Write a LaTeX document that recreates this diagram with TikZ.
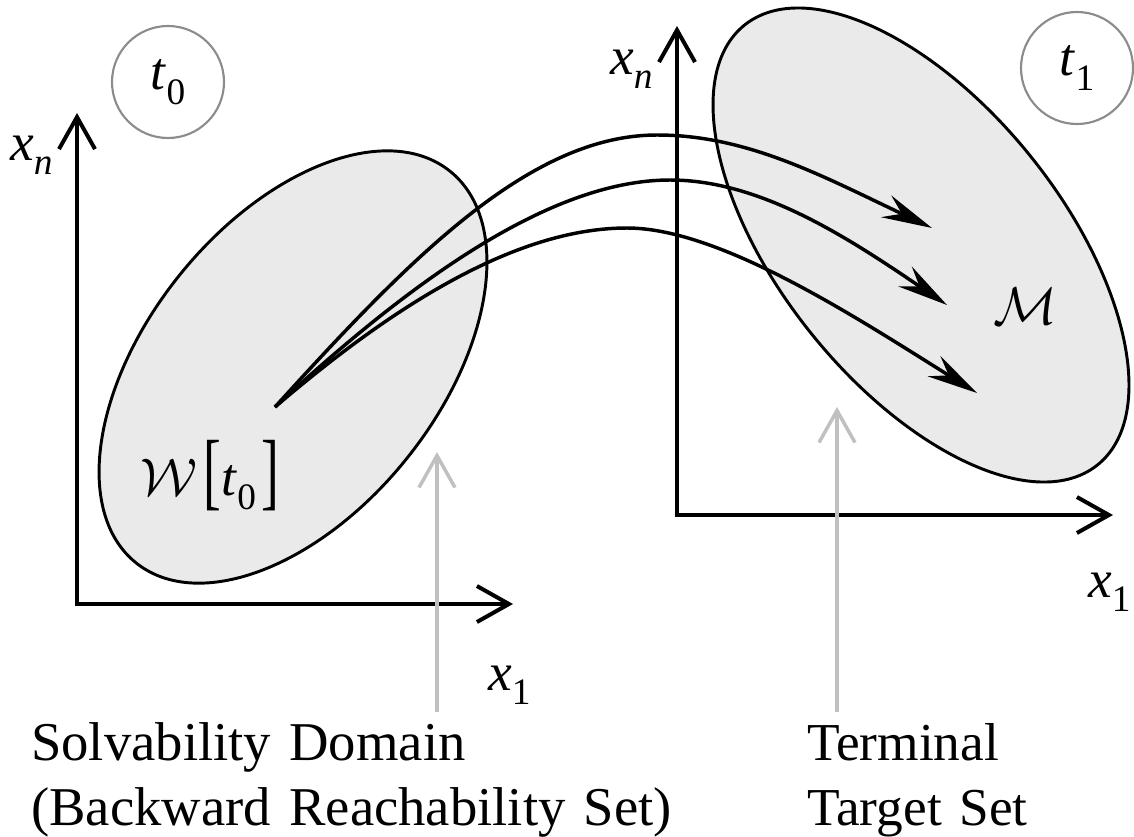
\documentclass[tikz,border=0pt]{standalone}
\usepackage{graphicx}
\usepackage{fontspec}
\setmainfont{Liberation Serif}
\usetikzlibrary{arrows.meta}
\definecolor{setfill}{HTML}{EAEAEA}
\definecolor{circgray}{HTML}{8C8C8C}
\definecolor{pointgray}{HTML}{C0C0C0}
\newcommand\lab[2]{\textit{#1}\raisebox{-0.28em}{\fontsize{28}{28}\selectfont #2}}
\newcommand\calsym[1]{\scalebox{1.6}{\fontsize{24.88}{28}\selectfont$#1$}}
\newcommand\tallbr[1]{\raisebox{-3pt}{\scalebox{1}[1.6]{#1}}}
\begin{document}
\begin{tikzpicture}[x=0.75pt,y=-0.75pt,
  big/.style={font=\fontsize{40}{48.75}\selectfont},
  setshape/.style={fill=setfill,draw=black,line width=2.2pt},
  axis/.style={line width=3pt,line join=miter,
    {Straight Barb[length=24pt,width=27pt]}-{Straight Barb[length=24pt,width=27pt]}},
  traj/.style={line width=2.6pt,-{Stealth[length=38pt,width=18pt,inset=13pt]}},
  pointer/.style={draw=pointgray,line width=2.6pt,-{Straight Barb[length=24pt,width=27pt]}},
  timecirc/.style={circle,draw=circgray,line width=1.6pt,minimum size=112*0.75pt,inner sep=0pt,big},
  lbl/.style={big,inner sep=0pt},
  caption/.style={inner sep=0pt,align=left,anchor=base west}]
\useasboundingbox (0,0) rectangle (1134,836);

% sets
\draw[setshape,shift={(293,367)},rotate=51.3] (0,0) ellipse [x radius=251, y radius=146];
\draw[setshape,shift={(921,245)},rotate=-51.25] (0,0) ellipse [x radius=282, y radius=141];

% axes
\coordinate (ly) at (77,113);
\coordinate (lo) at (77,604);
\coordinate (lx) at (513,604);
\coordinate (ry) at (677,26);
\coordinate (ro) at (677,515);
\coordinate (rx) at (1113,515);
\draw[axis] (ly) -- (lo) -- (lx);
\draw[axis] (ry) -- (ro) -- (rx);

% axis labels
\node[lbl,anchor=base west] (lxn) at (10,160) {\lab{x}{\textit{n}}};
\node[lbl,anchor=base west] (lx1) at (488,690) {\lab{x}{1}};
\node[lbl,anchor=base west] (rxn) at (610,74) {\lab{x}{\textit{n}}};
\node[lbl,anchor=base west] (rx1) at (1088,597) {\lab{x}{1}};

% time circles
\node[timecirc] (t0) at (168,82) {\lab{t}{0}};
\node[timecirc] (t1) at (1077,68) {\lab{t}{1}};

% set labels
\node[lbl,anchor=base west] (W) at (140,495) {\calsym{\mathcal{W}}\hspace{5pt}\tallbr{[}\lab{t}{0}\hspace{4pt}\tallbr{]}};
\node[lbl] (M) at (1025,306) {\calsym{\mathcal{M}}};

% trajectories
\coordinate (s) at (275,407);
\coordinate (e1) at (932,228);
\coordinate (e2) at (947,305);
\coordinate (e3) at (977,393);
\coordinate (p1) at (657,135);
\coordinate (p2) at (670,180);
\coordinate (p3) at (627,228);
\draw[traj] (s) .. controls (410,258) and (530,135) .. (p1) .. controls (747,135) and (822,176) .. (e1);
\draw[traj] (s) .. controls (410,282) and (550,180) .. (p2) .. controls (760,180) and (847,237) .. (e2);
\draw[traj] (s) .. controls (400,300) and (520,228) .. (p3) .. controls (720,228) and (857,318) .. (e3);

% pointers and captions
\coordinate (a1) at (437,712);
\coordinate (a1t) at (437,452);
\coordinate (a2) at (837,712);
\coordinate (a2t) at (837,407);
\draw[pointer] (a1) -- (a1t);
\draw[pointer] (a2) -- (a2t);
\node[caption,text width=700*0.75pt,font=\fontsize{41}{48.75}\selectfont] (cap1) at (31,760) {Solvability Domain\\(Backward Reachability Set)};
\node[caption,text width=320*0.75pt,font=\fontsize{40}{48.75}\selectfont] (cap2) at (807,760) {Terminal\\Target Set};
\end{tikzpicture}
\end{document}
